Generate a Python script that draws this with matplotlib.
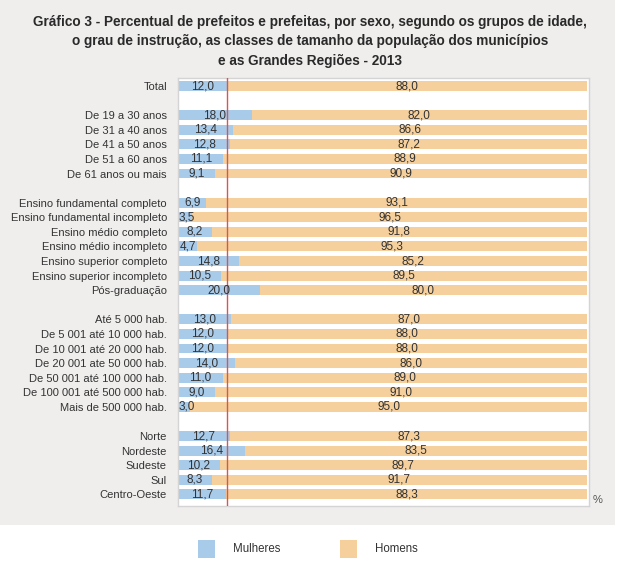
"""Percentual de prefeitos e prefeitas por sexo - 2013"""

import matplotlib
matplotlib.use("Agg")
import matplotlib.pyplot as plt
from matplotlib.patches import Rectangle

plt.rcParams["font.family"] = ["Liberation Sans", "DejaVu Sans"]

# rows, top to bottom ("" = blank separator row)
labels = [
    "Total", "",
    "De 19 a 30 anos", "De 31 a 40 anos", "De 41 a 50 anos",
    "De 51 a 60 anos", "De 61 anos ou mais", "",
    "Ensino fundamental completo", "Ensino fundamental incompleto",
    "Ensino médio completo", "Ensino médio incompleto",
    "Ensino superior completo", "Ensino superior incompleto",
    "Pós-graduação", "",
    "Até 5 000 hab.", "De 5 001 até 10 000 hab.", "De 10 001 até 20 000 hab.",
    "De 20 001 ate 50 000 hab.", "De 50 001 até 100 000 hab.",
    "De 100 001 até 500 000 hab.", "Mais de 500 000 hab.", "",
    "Norte", "Nordeste", "Sudeste", "Sul", "Centro-Oeste",
]
mulheres = [
    12.0, None,
    18.0, 13.4, 12.8, 11.1, 9.1, None,
    6.9, 3.5, 8.2, 4.7, 14.8, 10.5, 20.0, None,
    13.0, 12.0, 12.0, 14.0, 11.0, 9.0, 3.0, None,
    12.7, 16.4, 10.2, 8.3, 11.7,
]
homens = [
    88.0, None,
    82.0, 86.6, 87.2, 88.9, 90.9, None,
    93.1, 96.5, 91.8, 95.3, 85.2, 89.5, 80.0, None,
    87.0, 88.0, 88.0, 86.0, 89.0, 91.0, 95.0, None,
    87.3, 83.5, 89.7, 91.7, 88.3,
]
total_mulheres = 12.0

title = ("Gráfico 3 - Percentual de prefeitos e prefeitas, por sexo, segundo os grupos de idade,\n"
         "o grau de instrução, as classes de tamanho da população dos municípios\n"
         "e as Grandes Regiões - 2013")

blue = "#a9cbea"
orange = "#f5cf9c"
bg = "#efeeed"
txt = "#333333"

fig = plt.figure(figsize=(6.2, 5.68), dpi=100)
fig.patch.set_facecolor("white")
fig.patches.append(Rectangle((0, 1 - 525 / 568), 615 / 620, 525 / 568,
                             transform=fig.transFigure, facecolor=bg,
                             edgecolor="none", zorder=-10))

ax = fig.add_axes([178 / 620, 1 - 506 / 568, 411 / 620, 428 / 568])
ax.set_facecolor("white")

ys = [i for i, m in enumerate(mulheres) if m is not None]
mv = [mulheres[i] for i in ys]
hv = [homens[i] for i in ys]
# men's bar fills the rest of the row, as in the original
ax.barh(ys, [100 - m for m in mv], left=mv, height=0.68, color=orange, zorder=2)
ax.barh(ys, mv, height=0.68, color=blue, zorder=2)

for y, m, h in zip(ys, mv, hv):
    ax.text(max(m / 2, 2.1), y, f"{m:.1f}".replace(".", ","), ha="center",
            va="center", fontsize=8.5, color=txt, zorder=4)
    ax.text(m + (100 - m) / 2, y, f"{h:.1f}".replace(".", ","), ha="center",
            va="center", fontsize=8.5, color=txt, zorder=4)

ax.axvline(total_mulheres, color="#e0524f", linewidth=1, zorder=3)

ax.set_xlim(0, 100.5)
ax.set_ylim(len(labels) - 0.2, -0.55)
ax.set_yticks(range(len(labels)))
ax.set_yticklabels(labels, fontsize=8, color=txt)
ax.tick_params(axis="y", length=0, pad=8)
ax.set_xticks([])
for s in ax.spines.values():
    s.set_color("#d4d4d4")
    s.set_linewidth(1)

fig.text(598 / 620, 1 - 500 / 568, "%", ha="center", va="center",
         fontsize=8, color="#555555")

fig.text(0.5, 1 - 15 / 568, title, ha="center", va="top", fontsize=9.8,
         fontweight="bold", color="#2a2a2a", linespacing=1.5)

# legend
for x0, name, col in [(198, "Mulheres", blue), (340, "Homens", orange)]:
    fig.patches.append(Rectangle((x0 / 620, 1 - 558 / 568), 17 / 620, 18 / 568,
                                 transform=fig.transFigure, facecolor=col,
                                 edgecolor="none"))
    fig.text((x0 + 35) / 620, 1 - 549 / 568, name, ha="left", va="center",
             fontsize=8.3, color=txt)

fig.savefig("out.png", dpi=100)
